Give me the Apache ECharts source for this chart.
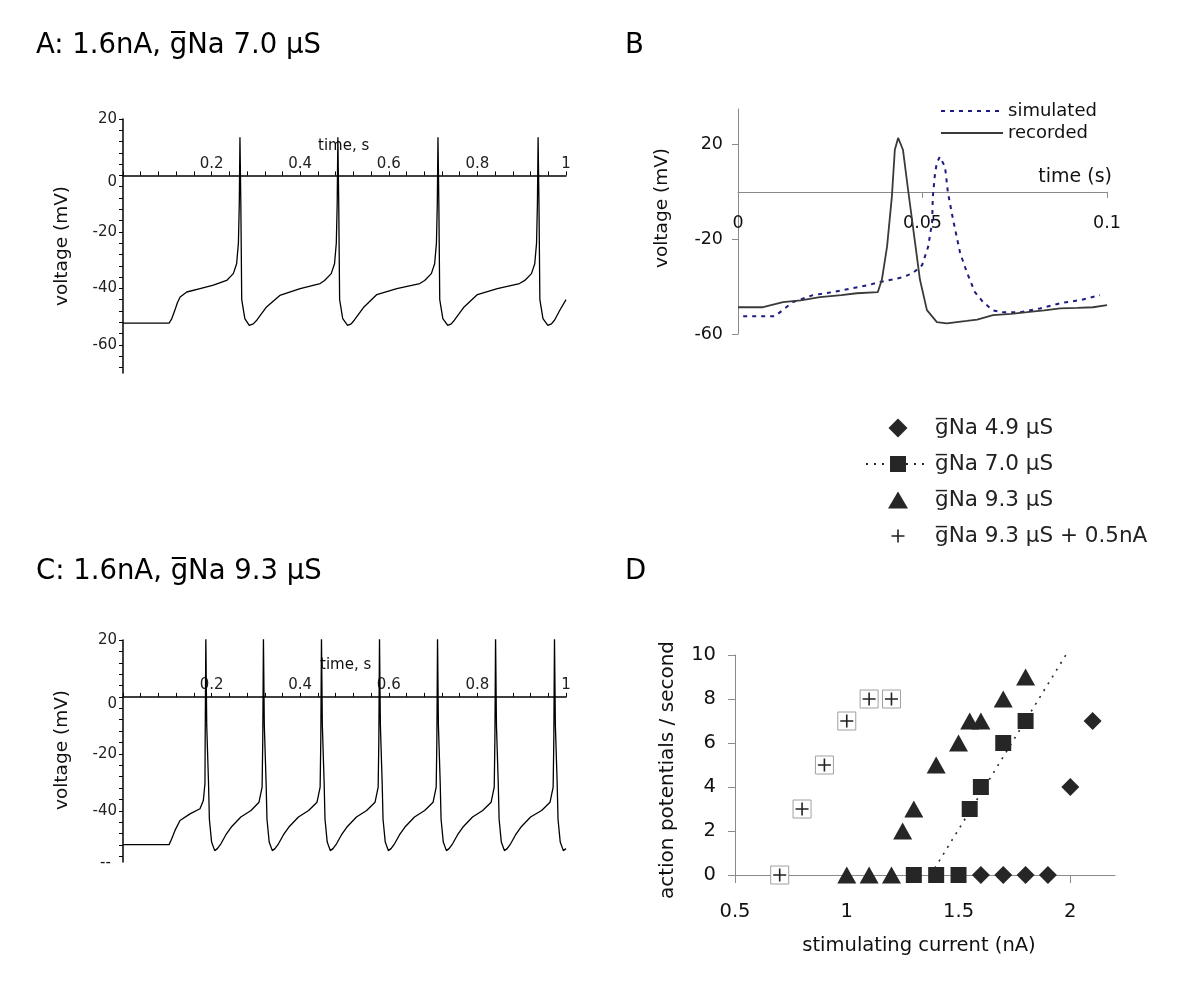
<!DOCTYPE html>
<html><head><meta charset="utf-8">
<script src="https://cdn.jsdelivr.net/npm/echarts@6/dist/echarts.min.js"></script>
<style>html,body{margin:0;padding:0;background:#fff}#c{width:1200px;height:999px}</style>
</head><body><div id="c"></div>
<script>
const G = 'g\u0305';
const FONT = 'DejaVu Sans';

// ---------- Panel A : 1.6nA, gNa 7.0 uS ----------
const aTime = [0,0.104,0.110,0.117,0.123,0.129,0.144,0.174,0.204,0.234,0.249,0.2565,0.2605,0.2625,0.264,0.266,0.268,0.275,0.285,0.294,0.302,0.324,0.354,0.400,0.445,
  0.455,0.470,0.4775,0.4815,0.4835,0.485,0.487,0.489,0.496,0.507,0.515,0.522,0.544,0.573,0.618,0.670,
  0.681,0.696,0.7035,0.7075,0.7095,0.711,0.713,0.715,0.722,0.733,0.741,0.748,0.770,0.800,0.845,0.895,
  0.907,0.922,0.9295,0.9335,0.9355,0.937,0.939,0.941,0.948,0.959,0.967,0.974,0.987,1.000];
const aVolt = [-52.3,-52.3,-50.8,-47.8,-45.0,-43.1,-41.3,-40.1,-38.9,-37.2,-34.8,-31.3,-24,-10,13.5,-10,-44,-50.7,-53.1,-52.6,-51.3,-46.6,-42.5,-40.1,-38.3,
  -37.2,-34.8,-31.3,-24,-10,13.5,-10,-44,-50.7,-53.1,-52.6,-51.3,-46.6,-42.2,-40.1,-38.3,
  -37.2,-34.8,-31.3,-24,-10,13.5,-10,-44,-50.7,-53.1,-52.6,-51.3,-46.6,-42.2,-40.1,-38.3,
  -37.2,-34.8,-31.3,-24,-10,13.5,-10,-44,-50.7,-53.1,-52.6,-51.3,-47.5,-44.0];
const aYLabels = [-60,-40,-20,0,20];
const aYTicks = [-68,-64,-60,-56,-52,-48,-44,-40,-36,-32,-28,-24,-20,-16,-12,-8,-4,0,4,8,12,16,20];

// ---------- Panel C : 1.6nA, gNa 9.3 uS ----------
const cTime = [0,0.104,0.110,0.1174,0.1287,0.1512,0.1738,0.1813,0.185,
  0.1855,0.187,0.189,0.193,0.195,0.200,0.207,0.213,0.221,0.232,0.244,0.266,0.289,0.307,0.314,
  0.3155,0.317,0.319,0.323,0.325,0.330,0.337,0.343,0.351,0.362,0.374,0.396,0.419,0.438,0.445,
  0.4465,0.448,0.450,0.454,0.456,0.461,0.468,0.474,0.482,0.493,0.505,0.527,0.550,0.569,0.576,
  0.5775,0.579,0.581,0.585,0.587,0.592,0.599,0.605,0.613,0.624,0.636,0.658,0.681,0.700,0.707,
  0.7085,0.710,0.712,0.716,0.718,0.723,0.730,0.736,0.744,0.755,0.767,0.789,0.812,0.831,0.838,
  0.8395,0.841,0.843,0.847,0.849,0.854,0.861,0.867,0.875,0.886,0.898,0.920,0.945,0.964,0.971,
  0.9725,0.974,0.976,0.980,0.982,0.987,0.994,1.000];
const cVolt = [-51.9,-51.9,-49.8,-46.9,-43.4,-41.1,-39.3,-36.4,-30.5,
  -15,21,-10,-30,-43,-51,-54,-53.3,-51.6,-48.5,-45.8,-42.2,-39.9,-37,-31.7,
  -15,21,-10,-30,-43,-51,-54,-53.3,-51.6,-48.5,-45.8,-42.2,-39.9,-37,-31.7,
  -15,21,-10,-30,-43,-51,-54,-53.3,-51.6,-48.5,-45.8,-42.2,-39.9,-37,-31.7,
  -15,21,-10,-30,-43,-51,-54,-53.3,-51.6,-48.5,-45.8,-42.2,-39.9,-37,-31.7,
  -15,21,-10,-30,-43,-51,-54,-53.3,-51.6,-48.5,-45.8,-42.2,-39.9,-37,-31.7,
  -15,21,-10,-30,-43,-51,-54,-53.3,-51.6,-48.5,-45.8,-42.2,-39.9,-37,-31.7,
  -15,21,-10,-30,-43,-51,-54,-53.3];
const cYLabels = [-40,-20,0,20];
const cYTicks = [-56,-52,-48,-44,-40,-36,-32,-28,-24,-20,-16,-12,-8,-4,0,4,8,12,16,20];

// ---------- Panel B : simulated vs recorded ----------
const bRecTime = [0,0.0068,0.0122,0.0170,0.0222,0.0280,0.0322,0.0379,0.0390,0.0404,0.0417,0.0425,0.0434,0.0447,0.0461,0.0480,0.0493,0.0512,0.0539,0.0566,0.0593,0.0620,0.0648,0.0691,0.0740,0.0783,0.0830,0.0873,0.0920,0.0962,0.1000];
const bRecVolt = [-48.7,-48.7,-46.5,-45.8,-44.4,-43.6,-42.8,-42.3,-37,-23,-2,17.8,22.8,17.8,0.8,-21.6,-37,-49.9,-55,-55.5,-55,-54.5,-53.9,-52,-51.5,-50.8,-50,-49.2,-49,-48.7,-47.8];
const bSimTime = [0.0014,0.0100,0.0149,0.0203,0.0257,0.0312,0.0352,0.0385,0.0425,0.0447,0.0474,0.0499,0.0515,0.0526,0.0528,0.0534,0.0539,0.0547,0.0561,0.0569,0.0583,0.0602,0.0621,0.0642,0.0664,0.0691,0.0718,0.0764,0.0818,0.0873,0.0927,0.0981];
const bSimVolt = [-52.5,-52.5,-46.5,-43.6,-42.3,-40.6,-39.4,-38,-36.8,-36,-34.3,-30.9,-23.3,-13,-2,8,12.3,14.8,10.6,-0.4,-11.8,-25.8,-34.3,-42.3,-46.5,-50,-50.8,-50.8,-49.2,-47,-45.7,-43.6];
const bYLabels = [-60,-20,20];

// ---------- Panel D : firing rate vs current ----------
const d49Current = [1.6,1.7,1.8,1.9,2.0,2.1];
const d49Rate    = [0,0,0,0,4,7];
const d70Current = [1.3,1.4,1.5,1.55,1.6,1.7,1.8];
const d70Rate    = [0,0,0,3,4,6,7];
const d70TrendCurrent = [1.375,1.98];
const d70TrendRate    = [0,10];
const d93Current = [1.0,1.1,1.2,1.25,1.3,1.4,1.5,1.55,1.6,1.7,1.8];
const d93Rate    = [0,0,0,2,3,5,6,7,7,8,9];
const d93pCurrent = [0.7,0.8,0.9,1.0,1.1,1.2];
const d93pRate    = [0,3,5,7,8,8];
const dXLabels = [0.5,1,1.5,2];

const names = {
  s49: G + 'Na 4.9 \u03bcS',
  s70: G + 'Na 7.0 \u03bcS',
  s93: G + 'Na 9.3 \u03bcS',
  s93p: G + 'Na 9.3 \u03bcS + 0.5nA'
};

const pairs = (xs, ys) => xs.map((x, i) => [x, ys[i]]);
const PLUS = 'path://M0 0M20 20M9.2 3.5h1.6v5.7h5.7v1.6h-5.7v5.7h-1.6v-5.7h-5.7v-1.6h5.7z';
const LEG_DIAMOND = 'path://M0 0M64 20M32 0.5L41.5 10L32 19.5L22.5 10Z';
const LEG_TRIANGLE = 'path://M0 0M64 20M32 1.5L42 18.5L22 18.5Z';
const MARK = '#262626';
const EXG = '#8a8a8a';

const mapleY = (labels, ticks) => ({
  type: 'value', axisLine: {show: true, lineStyle: {color: '#000', width: 1.5}},
  axisTick: {show: true, length: 4, customValues: ticks, lineStyle: {color: '#000'}},
  axisLabel: {customValues: labels, margin: 6, color: '#222', fontFamily: FONT, fontSize: 15,
    formatter: v => v === 0 ? '{z|0}' : String(v),
    rich: {z: {padding: [14, 0, 0, 0], fontFamily: FONT, fontSize: 15, color: '#222'}}},
  splitLine: {show: false}
});
const mapleX = (idx, off) => ({
  type: 'value', gridIndex: idx, min: 0, max: 1, interval: 0.2, position: 'bottom', offset: off,
  axisLine: {show: true, onZero: false, lineStyle: {color: '#000', width: 1.5}},
  axisTick: {show: true, inside: true, length: 4, lineStyle: {color: '#000'}},
  minorTick: {show: true, splitNumber: 5, length: 4, lineStyle: {color: '#000'}},
  axisLabel: {inside: true, margin: 4, showMinLabel: false, color: '#222', fontFamily: FONT, fontSize: 15},
  splitLine: {show: false}
});

const titleStyle = {fontFamily: FONT, fontSize: 27.5, fontWeight: 'normal', color: '#000'};
const txt = (text, x, y, size, align, rot) => ({type: 'text', x: x, y: y, rotation: rot || 0, silent: true,
  style: {text: text, fontFamily: FONT, fontSize: size, fill: '#111', align: align, verticalAlign: 'middle'}});

const option = {
  animation: false,
  backgroundColor: '#fff',
  title: [
    {text: 'A: 1.6nA, ' + G + 'Na 7.0 \u03bcS', left: 36, top: 32, padding: 0, textStyle: titleStyle},
    {text: 'B', left: 625, top: 32, padding: 0, textStyle: titleStyle},
    {text: 'C: 1.6nA, ' + G + 'Na 9.3 \u03bcS', left: 36, top: 558, padding: 0, textStyle: titleStyle},
    {text: 'D', left: 625, top: 558, padding: 0, textStyle: titleStyle}
  ],
  grid: [
    {left: 123, top: 119, width: 443, height: 254},
    {left: 123, top: 640, width: 443, height: 222},
    {left: 738, top: 109, width: 369, height: 225},
    {left: 735, top: 655, width: 380, height: 220}
  ],
  xAxis: [
    mapleX(0, -197.6),
    mapleX(1, -165.1),
    {type: 'value', gridIndex: 2, min: 0, max: 0.1, interval: 0.05, position: 'bottom', offset: -142.1,
      axisLine: {show: true, onZero: false, lineStyle: {color: EXG, width: 1}},
      axisTick: {show: true, length: 6, lineStyle: {color: EXG}},
      axisLabel: {margin: 23, color: '#111', fontFamily: FONT, fontSize: 17.5},
      splitLine: {show: false}},
    {type: 'value', gridIndex: 3, min: 0.5, max: 2.2,
      axisLine: {show: true, onZero: false, lineStyle: {color: EXG, width: 1}},
      axisTick: {show: true, length: 8, customValues: dXLabels, lineStyle: {color: EXG}},
      axisLabel: {customValues: dXLabels, margin: 27, color: '#111', fontFamily: FONT, fontSize: 19.5},
      splitLine: {show: false}}
  ],
  yAxis: [
    Object.assign(mapleY(aYLabels, aYTicks), {gridIndex: 0, min: -70, max: 20}),
    Object.assign(mapleY(cYLabels, cYTicks), {gridIndex: 1, min: -58, max: 20}),
    {type: 'value', gridIndex: 2, min: -60, max: 35,
      axisLine: {show: true, lineStyle: {color: EXG, width: 1}},
      axisTick: {show: true, length: 6, customValues: bYLabels, lineStyle: {color: EXG}},
      axisLabel: {customValues: bYLabels, margin: 15, color: '#111', fontFamily: FONT, fontSize: 17.5},
      splitLine: {show: false}},
    {type: 'value', gridIndex: 3, min: 0, max: 10, interval: 2,
      axisLine: {show: true, lineStyle: {color: EXG, width: 1}},
      axisTick: {show: true, length: 7, lineStyle: {color: EXG}},
      axisLabel: {margin: 19, color: '#111', fontFamily: FONT, fontSize: 19.5},
      splitLine: {show: false}}
  ],
  legend: [
    {left: 935, top: 96, orient: 'vertical', itemWidth: 62, itemHeight: 14, itemGap: 2,
      data: ['simulated', 'recorded'], itemStyle: {opacity: 0}, selectedMode: false,
      textStyle: {fontFamily: FONT, fontSize: 18, lineHeight: 20, color: '#111'}},
    {left: 860, top: 412, orient: 'vertical', itemWidth: 64, itemHeight: 20, itemGap: 14,
      data: [{name: names.s49, icon: LEG_DIAMOND}, {name: names.s70},
             {name: names.s93, icon: LEG_TRIANGLE}, {name: names.s93p}],
      selectedMode: false,
      textStyle: {fontFamily: FONT, fontSize: 21.5, lineHeight: 20, color: '#222'}}
  ],
  series: [
    {type: 'line', xAxisIndex: 0, yAxisIndex: 0, data: pairs(aTime, aVolt), symbol: 'none',
      lineStyle: {color: '#000', width: 1.3}},
    {type: 'line', xAxisIndex: 1, yAxisIndex: 1, data: pairs(cTime, cVolt), symbol: 'none',
      lineStyle: {color: '#000', width: 1.3}},
    {type: 'line', name: 'simulated', xAxisIndex: 2, yAxisIndex: 2, data: pairs(bSimTime, bSimVolt), symbol: 'none',
      color: '#1c1c80', lineStyle: {color: '#1c1c80', width: 2, type: [4, 5]}},
    {type: 'line', name: 'recorded', xAxisIndex: 2, yAxisIndex: 2, data: pairs(bRecTime, bRecVolt), symbol: 'none',
      color: '#3a3a3a', lineStyle: {color: '#3a3a3a', width: 1.8}},
    {type: 'scatter', name: names.s49, xAxisIndex: 3, yAxisIndex: 3, data: pairs(d49Current, d49Rate),
      symbol: 'diamond', symbolSize: 18, itemStyle: {color: MARK, opacity: 1}},
    {type: 'line', name: names.s70, xAxisIndex: 3, yAxisIndex: 3, data: pairs(d70TrendCurrent, d70TrendRate),
      symbol: 'rect', showSymbol: false, color: MARK, lineStyle: {color: '#2a2a2a', width: 1.6, type: [2, 6]}},
    {type: 'scatter', name: names.s70, xAxisIndex: 3, yAxisIndex: 3, data: pairs(d70Current, d70Rate),
      symbol: 'rect', symbolSize: 16, itemStyle: {color: MARK, opacity: 1}},
    {type: 'scatter', name: names.s93, xAxisIndex: 3, yAxisIndex: 3, data: pairs(d93Current, d93Rate),
      symbol: 'triangle', symbolSize: [19, 17], itemStyle: {color: MARK, opacity: 1}},
    {type: 'scatter', name: 'box', xAxisIndex: 3, yAxisIndex: 3, data: pairs(d93pCurrent, d93pRate),
      symbol: 'rect', symbolSize: 18, itemStyle: {color: '#fff', borderColor: '#a0a0a0', borderWidth: 1, opacity: 1}},
    {type: 'scatter', name: names.s93p, xAxisIndex: 3, yAxisIndex: 3, data: pairs(d93pCurrent, d93pRate),
      symbol: PLUS, symbolSize: 20, itemStyle: {color: '#222', opacity: 1}}
  ],
  graphic: [
    txt('time, s', 318, 146, 15, 'left'),
    txt('time, s', 320, 665, 15, 'left'),
    txt('--', 100, 863, 15, 'left'),
    txt('voltage (mV)', 62, 246, 18.5, 'center', Math.PI / 2),
    txt('voltage (mV)', 62, 750, 18.5, 'center', Math.PI / 2),
    txt('voltage (mV)', 662, 208, 18.5, 'center', Math.PI / 2),
    txt('time (s)', 1112, 177, 19, 'right'),
    txt('action potentials / second', 668, 770, 20, 'center', Math.PI / 2),
    txt('stimulating current (nA)', 919, 946, 19.5, 'center')
  ]
};

const chart = echarts.init(document.getElementById('c'), null, {renderer: 'canvas', width: 1200, height: 999});
chart.setOption(option);
</script>
</body></html>
